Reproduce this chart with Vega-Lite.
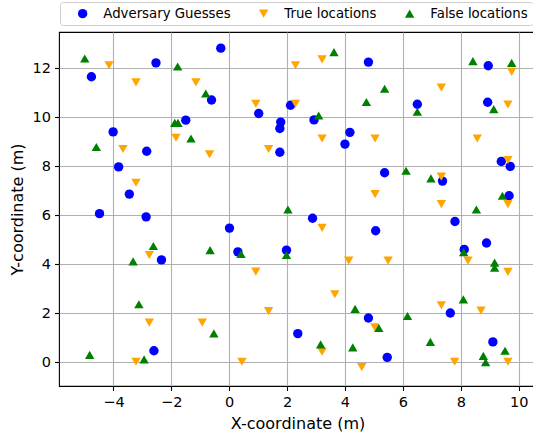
{
  "$schema": "https://vega.github.io/schema/vega-lite/v6.json",
  "autosize": {"type": "none"},
  "padding": {"left": 59, "top": 32, "right": 0, "bottom": 53},
  "width": 477,
  "height": 354,
  "background": "white",
  "config": {
    "font": "DejaVu Sans",
    "view": {"stroke": "black", "strokeWidth": 1.1},
    "axis": {
      "domain": false,
      "grid": true,
      "gridColor": "#b0b0b0",
      "gridWidth": 1.1,
      "tickColor": "black",
      "tickSize": 4.5,
      "tickWidth": 1.1,
      "labelFont": "DejaVu Sans",
      "labelFontSize": 14.5,
      "labelColor": "black",
      "titleFont": "DejaVu Sans",
      "titleFontSize": 16,
      "titleFontWeight": "normal",
      "titleColor": "black"
    }
  },
  "data": {
    "values": [
      {"x": -2.53, "y": 12.23, "s": "Adversary Guesses"},
      {"x": -4.76, "y": 11.66, "s": "Adversary Guesses"},
      {"x": -0.61, "y": 10.71, "s": "Adversary Guesses"},
      {"x": -1.50, "y": 9.89, "s": "Adversary Guesses"},
      {"x": -4.01, "y": 9.41, "s": "Adversary Guesses"},
      {"x": -2.85, "y": 8.62, "s": "Adversary Guesses"},
      {"x": -3.82, "y": 7.98, "s": "Adversary Guesses"},
      {"x": -3.45, "y": 6.87, "s": "Adversary Guesses"},
      {"x": -0.29, "y": 12.83, "s": "Adversary Guesses"},
      {"x": 4.81, "y": 12.26, "s": "Adversary Guesses"},
      {"x": 1.02, "y": 10.16, "s": "Adversary Guesses"},
      {"x": 2.12, "y": 10.50, "s": "Adversary Guesses"},
      {"x": 1.78, "y": 9.81, "s": "Adversary Guesses"},
      {"x": 1.75, "y": 9.55, "s": "Adversary Guesses"},
      {"x": 2.93, "y": 9.90, "s": "Adversary Guesses"},
      {"x": 4.17, "y": 9.39, "s": "Adversary Guesses"},
      {"x": 4.00, "y": 8.91, "s": "Adversary Guesses"},
      {"x": 1.75, "y": 8.58, "s": "Adversary Guesses"},
      {"x": 6.50, "y": 10.54, "s": "Adversary Guesses"},
      {"x": 8.95, "y": 12.11, "s": "Adversary Guesses"},
      {"x": 8.93, "y": 10.62, "s": "Adversary Guesses"},
      {"x": 9.40, "y": 8.20, "s": "Adversary Guesses"},
      {"x": 9.71, "y": 8.00, "s": "Adversary Guesses"},
      {"x": 5.37, "y": 7.74, "s": "Adversary Guesses"},
      {"x": 7.37, "y": 7.40, "s": "Adversary Guesses"},
      {"x": 9.67, "y": 6.80, "s": "Adversary Guesses"},
      {"x": -4.48, "y": 6.07, "s": "Adversary Guesses"},
      {"x": -2.87, "y": 5.94, "s": "Adversary Guesses"},
      {"x": -2.34, "y": 4.18, "s": "Adversary Guesses"},
      {"x": -2.60, "y": 0.47, "s": "Adversary Guesses"},
      {"x": 2.88, "y": 5.88, "s": "Adversary Guesses"},
      {"x": 0.01, "y": 5.48, "s": "Adversary Guesses"},
      {"x": 0.30, "y": 4.51, "s": "Adversary Guesses"},
      {"x": 1.98, "y": 4.58, "s": "Adversary Guesses"},
      {"x": 4.81, "y": 1.81, "s": "Adversary Guesses"},
      {"x": 2.37, "y": 1.17, "s": "Adversary Guesses"},
      {"x": 7.80, "y": 5.75, "s": "Adversary Guesses"},
      {"x": 5.06, "y": 5.37, "s": "Adversary Guesses"},
      {"x": 8.89, "y": 4.87, "s": "Adversary Guesses"},
      {"x": 8.12, "y": 4.61, "s": "Adversary Guesses"},
      {"x": 7.64, "y": 2.01, "s": "Adversary Guesses"},
      {"x": 9.11, "y": 0.83, "s": "Adversary Guesses"},
      {"x": 5.46, "y": 0.20, "s": "Adversary Guesses"},
      {"x": -4.15, "y": 12.13, "s": "True locations"},
      {"x": -3.22, "y": 11.43, "s": "True locations"},
      {"x": -1.15, "y": 11.43, "s": "True locations"},
      {"x": -1.84, "y": 9.17, "s": "True locations"},
      {"x": -3.67, "y": 8.71, "s": "True locations"},
      {"x": -0.68, "y": 8.49, "s": "True locations"},
      {"x": -3.22, "y": 7.33, "s": "True locations"},
      {"x": 3.21, "y": 12.37, "s": "True locations"},
      {"x": 2.29, "y": 12.13, "s": "True locations"},
      {"x": 0.92, "y": 10.56, "s": "True locations"},
      {"x": 2.29, "y": 10.56, "s": "True locations"},
      {"x": 3.21, "y": 9.14, "s": "True locations"},
      {"x": 1.36, "y": 8.71, "s": "True locations"},
      {"x": 9.76, "y": 11.86, "s": "True locations"},
      {"x": 7.33, "y": 11.22, "s": "True locations"},
      {"x": 9.63, "y": 10.53, "s": "True locations"},
      {"x": 5.04, "y": 9.14, "s": "True locations"},
      {"x": 8.57, "y": 9.14, "s": "True locations"},
      {"x": 9.63, "y": 8.26, "s": "True locations"},
      {"x": 7.33, "y": 7.58, "s": "True locations"},
      {"x": 5.04, "y": 6.87, "s": "True locations"},
      {"x": 7.33, "y": 6.46, "s": "True locations"},
      {"x": 9.63, "y": 6.46, "s": "True locations"},
      {"x": -2.76, "y": 4.38, "s": "True locations"},
      {"x": -2.76, "y": 1.62, "s": "True locations"},
      {"x": -0.93, "y": 1.62, "s": "True locations"},
      {"x": -3.22, "y": 0.02, "s": "True locations"},
      {"x": 3.21, "y": 5.49, "s": "True locations"},
      {"x": 4.13, "y": 4.15, "s": "True locations"},
      {"x": 0.92, "y": 3.70, "s": "True locations"},
      {"x": 3.65, "y": 2.78, "s": "True locations"},
      {"x": 1.36, "y": 2.09, "s": "True locations"},
      {"x": 3.21, "y": 0.43, "s": "True locations"},
      {"x": 4.58, "y": -0.20, "s": "True locations"},
      {"x": 0.44, "y": 0.02, "s": "True locations"},
      {"x": 8.25, "y": 4.15, "s": "True locations"},
      {"x": 5.49, "y": 4.15, "s": "True locations"},
      {"x": 9.63, "y": 3.69, "s": "True locations"},
      {"x": 7.33, "y": 2.33, "s": "True locations"},
      {"x": 8.70, "y": 2.11, "s": "True locations"},
      {"x": 5.03, "y": 1.43, "s": "True locations"},
      {"x": 7.79, "y": 0.02, "s": "True locations"},
      {"x": 9.63, "y": 0.02, "s": "True locations"},
      {"x": -4.99, "y": 12.41, "s": "False locations"},
      {"x": -1.78, "y": 12.08, "s": "False locations"},
      {"x": -0.81, "y": 10.98, "s": "False locations"},
      {"x": -1.88, "y": 9.78, "s": "False locations"},
      {"x": -1.77, "y": 9.78, "s": "False locations"},
      {"x": -1.32, "y": 9.14, "s": "False locations"},
      {"x": -4.59, "y": 8.79, "s": "False locations"},
      {"x": 3.62, "y": 12.67, "s": "False locations"},
      {"x": 4.74, "y": 10.63, "s": "False locations"},
      {"x": 3.09, "y": 10.08, "s": "False locations"},
      {"x": 8.42, "y": 12.30, "s": "False locations"},
      {"x": 9.76, "y": 12.23, "s": "False locations"},
      {"x": 5.37, "y": 11.17, "s": "False locations"},
      {"x": 6.50, "y": 10.23, "s": "False locations"},
      {"x": 9.14, "y": 10.34, "s": "False locations"},
      {"x": 6.11, "y": 7.82, "s": "False locations"},
      {"x": 6.97, "y": 7.51, "s": "False locations"},
      {"x": 9.44, "y": 6.80, "s": "False locations"},
      {"x": -2.62, "y": 4.75, "s": "False locations"},
      {"x": -3.32, "y": 4.12, "s": "False locations"},
      {"x": -0.66, "y": 4.58, "s": "False locations"},
      {"x": -3.12, "y": 2.37, "s": "False locations"},
      {"x": -0.53, "y": 1.18, "s": "False locations"},
      {"x": -4.82, "y": 0.30, "s": "False locations"},
      {"x": -2.94, "y": 0.12, "s": "False locations"},
      {"x": 2.03, "y": 6.24, "s": "False locations"},
      {"x": 0.41, "y": 4.42, "s": "False locations"},
      {"x": 1.98, "y": 4.38, "s": "False locations"},
      {"x": 4.35, "y": 2.18, "s": "False locations"},
      {"x": 3.16, "y": 0.73, "s": "False locations"},
      {"x": 4.27, "y": 0.61, "s": "False locations"},
      {"x": 8.54, "y": 6.24, "s": "False locations"},
      {"x": 8.10, "y": 4.50, "s": "False locations"},
      {"x": 9.17, "y": 4.07, "s": "False locations"},
      {"x": 9.17, "y": 3.86, "s": "False locations"},
      {"x": 8.09, "y": 2.57, "s": "False locations"},
      {"x": 5.17, "y": 1.40, "s": "False locations"},
      {"x": 6.16, "y": 1.89, "s": "False locations"},
      {"x": 6.95, "y": 0.83, "s": "False locations"},
      {"x": 8.78, "y": 0.26, "s": "False locations"},
      {"x": 8.86, "y": 0.00, "s": "False locations"},
      {"x": 9.53, "y": 0.47, "s": "False locations"}
    ]
  },
  "mark": {"type": "point", "filled": true, "opacity": 1, "size": 88, "clip": true},
  "encoding": {
    "x": {
      "field": "x",
      "type": "quantitative",
      "scale": {"domain": [-5.88, 10.6], "nice": false, "zero": false},
      "axis": {
        "title": "X-coordinate (m)",
        "values": [-4, -2, 0, 2, 4, 6, 8, 10],
        "labelExpr": "datum.value < 0 ? '\u2212' + abs(datum.value) : datum.label",
        "labelPadding": 5,
        "titlePadding": 6
      }
    },
    "y": {
      "field": "y",
      "type": "quantitative",
      "scale": {"domain": [-0.97, 13.49], "nice": false, "zero": false},
      "axis": {
        "title": "Y-coordinate (m)",
        "values": [0, 2, 4, 6, 8, 10, 12],
        "labelPadding": 4,
        "titlePadding": 7
      }
    },
    "color": {
      "field": "s",
      "type": "nominal",
      "sort": null,
      "scale": {
        "domain": ["Adversary Guesses", "True locations", "False locations"],
        "range": ["#0000ff", "#ffa500", "#008000"]
      },
      "legend": {
        "title": null,
        "orient": "none",
        "legendX": 1,
        "legendY": -30,
        "direction": "horizontal",
        "padding": 5,
        "strokeColor": "#cccccc",
        "fillColor": "white",
        "cornerRadius": 3,
        "labelFont": "DejaVu Sans",
        "labelFontSize": 13.3,
        "labelColor": "black",
        "symbolOffset": 11,
        "labelOffset": 14,
        "columnPadding": 15,
        "symbolSize": 88,
        "symbolStrokeWidth": 0
      }
    },
    "shape": {
      "field": "s",
      "type": "nominal",
      "sort": null,
      "scale": {
        "domain": ["Adversary Guesses", "True locations", "False locations"],
        "range": ["circle", "triangle-down", "triangle-up"]
      },
      "legend": {
        "title": null,
        "orient": "none",
        "legendX": 1,
        "legendY": -30,
        "direction": "horizontal",
        "padding": 5,
        "strokeColor": "#cccccc",
        "fillColor": "white",
        "cornerRadius": 3,
        "labelFont": "DejaVu Sans",
        "labelFontSize": 13.3,
        "labelColor": "black",
        "symbolOffset": 11,
        "labelOffset": 14,
        "columnPadding": 15,
        "symbolSize": 88,
        "symbolStrokeWidth": 0
      }
    }
  }
}
